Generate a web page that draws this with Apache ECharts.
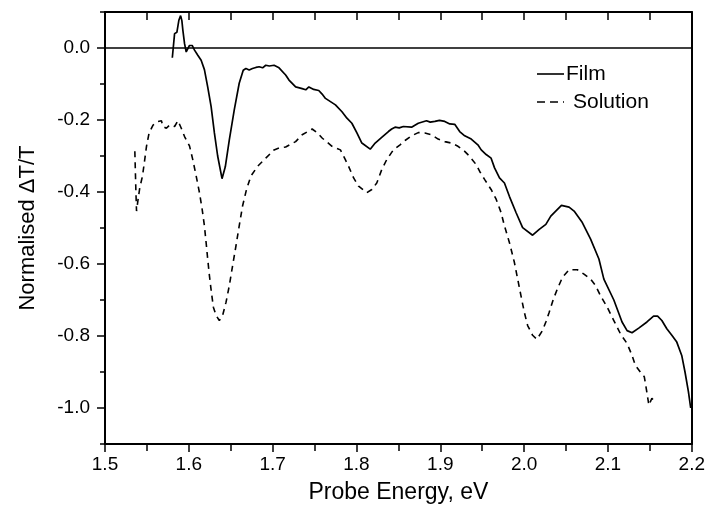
<!DOCTYPE html>
<html>
<head>
<meta charset="utf-8">
<script src="https://cdn.jsdelivr.net/npm/echarts@6/dist/echarts.min.js"></script>
<style>
  html, body { margin: 0; padding: 0; background: #fff; }
  #chart { width: 708px; height: 519px; }
</style>
</head>
<body>
<div id="chart"></div>
<script>
// Transient absorption spectra: film vs solution (normalised dT/T against probe energy)
const filmEnergy = [
  1.5803, 1.5830, 1.5858, 1.5881, 1.5902, 1.5917, 1.5929, 1.5949, 1.5969, 1.5988,
  1.6008, 1.6040, 1.6068, 1.6107, 1.6127, 1.6147, 1.6186, 1.6225, 1.6266, 1.6305,
  1.6344, 1.6396, 1.6435, 1.6483, 1.6542, 1.6601, 1.6649, 1.6681, 1.6720, 1.6759,
  1.6800, 1.6839, 1.6880, 1.6918, 1.6960, 1.7017, 1.7076, 1.7155, 1.7195, 1.7274,
  1.7352, 1.7395, 1.7432, 1.7490, 1.7550, 1.7590, 1.7630, 1.7749, 1.7827, 1.7886,
  1.7945, 1.8005, 1.8064, 1.8164, 1.8223, 1.8301, 1.8381, 1.8420, 1.8460, 1.8510,
  1.8559, 1.8657, 1.8737, 1.8835, 1.8880, 1.8935, 1.8990, 1.9053, 1.9113, 1.9172,
  1.9231, 1.9291, 1.9369, 1.9448, 1.9488, 1.9547, 1.9606, 1.9647, 1.9706, 1.9765,
  1.9824, 1.9903, 1.9982, 2.0101, 2.0180, 2.0259, 2.0318, 2.0377, 2.0445, 2.0536,
  2.0596, 2.0694, 2.0793, 2.0892, 2.0951, 2.1070, 2.1168, 2.1228, 2.1287, 2.1367,
  2.1465, 2.1544, 2.1592, 2.1643, 2.1702, 2.1762, 2.1821, 2.1880, 2.1919, 2.1960,
  2.1987
];
const filmSignal = [
  -0.027, 0.040, 0.044, 0.077, 0.090, 0.076, 0.049, 0.012, -0.011, -0.006,
  0.007, 0.007, -0.006, -0.020, -0.025, -0.034, -0.060, -0.108, -0.163, -0.236,
  -0.300, -0.363, -0.330, -0.255, -0.172, -0.098, -0.062, -0.057, -0.061, -0.057,
  -0.054, -0.052, -0.055, -0.048, -0.050, -0.048, -0.055, -0.075, -0.089, -0.108,
  -0.113, -0.116, -0.108, -0.115, -0.118, -0.128, -0.140, -0.158, -0.177, -0.195,
  -0.209, -0.236, -0.264, -0.281, -0.264, -0.248, -0.232, -0.225, -0.220, -0.222,
  -0.218, -0.220, -0.209, -0.202, -0.206, -0.204, -0.201, -0.204, -0.211, -0.212,
  -0.232, -0.244, -0.253, -0.269, -0.283, -0.296, -0.306, -0.333, -0.361, -0.375,
  -0.412, -0.457, -0.499, -0.520, -0.504, -0.490, -0.467, -0.453, -0.437, -0.442,
  -0.453, -0.485, -0.531, -0.586, -0.642, -0.700, -0.761, -0.785, -0.791, -0.778,
  -0.761, -0.745, -0.745, -0.757, -0.780, -0.798, -0.817, -0.854, -0.900, -0.955,
  -1.000
];
const solutionEnergy = [
  1.5356, 1.5368, 1.5376, 1.5395, 1.5415, 1.5447, 1.5474, 1.5495, 1.5526, 1.5573,
  1.5632, 1.5673, 1.5692, 1.5732, 1.5771, 1.5830, 1.5870, 1.5910, 1.5949, 1.6008,
  1.6047, 1.6088, 1.6127, 1.6159, 1.6186, 1.6206, 1.6225, 1.6246, 1.6269, 1.6293,
  1.6325, 1.6364, 1.6403, 1.6444, 1.6483, 1.6522, 1.6562, 1.6601, 1.6641, 1.6688,
  1.6740, 1.6819, 1.6918, 1.7017, 1.7076, 1.7155, 1.7274, 1.7352, 1.7471, 1.7530,
  1.7590, 1.7708, 1.7808, 1.7867, 1.7906, 1.7966, 1.8025, 1.8123, 1.8183, 1.8242,
  1.8301, 1.8361, 1.8440, 1.8520, 1.8579, 1.8657, 1.8737, 1.8816, 1.8895, 1.8974,
  1.9053, 1.9132, 1.9211, 1.9291, 1.9350, 1.9428, 1.9470, 1.9528, 1.9606, 1.9666,
  1.9725, 1.9765, 1.9824, 1.9884, 1.9923, 1.9962, 2.0002, 2.0042, 2.0101, 2.0152,
  2.0219, 2.0259, 2.0299, 2.0350, 2.0397, 2.0457, 2.0536, 2.0635, 2.0714, 2.0793,
  2.0852, 2.0911, 2.0991, 2.1070, 2.1149, 2.1228, 2.1287, 2.1326, 2.1386, 2.1433,
  2.1457, 2.1488, 2.1524, 2.1544
];
const solutionSignal = [
  -0.287, -0.393, -0.453, -0.420, -0.388, -0.356, -0.310, -0.273, -0.236, -0.214,
  -0.204, -0.202, -0.218, -0.223, -0.214, -0.218, -0.202, -0.223, -0.246, -0.272,
  -0.310, -0.356, -0.402, -0.448, -0.494, -0.540, -0.586, -0.633, -0.678, -0.720,
  -0.743, -0.757, -0.743, -0.706, -0.660, -0.605, -0.550, -0.494, -0.439, -0.393,
  -0.356, -0.329, -0.306, -0.283, -0.278, -0.275, -0.260, -0.241, -0.225, -0.235,
  -0.250, -0.273, -0.283, -0.310, -0.329, -0.361, -0.384, -0.402, -0.393, -0.375,
  -0.338, -0.310, -0.283, -0.269, -0.257, -0.244, -0.235, -0.236, -0.241, -0.253,
  -0.260, -0.264, -0.273, -0.287, -0.301, -0.324, -0.343, -0.365, -0.393, -0.420,
  -0.457, -0.494, -0.540, -0.596, -0.642, -0.688, -0.734, -0.771, -0.798, -0.809,
  -0.785, -0.761, -0.734, -0.697, -0.669, -0.637, -0.616, -0.616, -0.628, -0.642,
  -0.660, -0.688, -0.720, -0.757, -0.794, -0.821, -0.854, -0.881, -0.900, -0.913,
  -0.946, -0.992, -0.973, -0.978
];
const seriesNames = ['Film', 'Solution'];

const zip = (xs, ys) => xs.map((x, i) => [x, ys[i]]);
const fmt = v => (Math.abs(v) < 1e-9 ? '0.0' : v.toFixed(1));

const FONT = '"Liberation Sans", Arial, sans-serif';
const INK = '#000';
const DASH = [6, 5];

const chart = echarts.init(document.getElementById('chart'), null, { renderer: 'canvas' });

// Hand-drawn key: a short line sample followed by its label
function keyEntry(x, y, label, dash, textGap) {
  return [
    {
      type: 'line', silent: true,
      shape: { x1: x, y1: y, x2: x + 27, y2: y },
      style: { stroke: INK, lineWidth: 1.6, lineDash: dash }
    },
    {
      type: 'text', silent: true,
      x: x + 27 + textGap, y: y,
      style: {
        text: label, fill: INK, font: '21px ' + FONT,
        textAlign: 'left', textVerticalAlign: 'middle'
      }
    }
  ];
}

chart.setOption({
  animation: false,
  backgroundColor: '#fff',
  textStyle: { fontFamily: FONT, color: INK },
  grid: [
    { left: 105, right: 13, top: 12, height: 432 },
    // inner grid spanning 0.0 .. -1.0, carries the labelled major ticks
    { left: 105, right: 13, top: 48, height: 360 }
  ],
  xAxis: [
    {
      type: 'value', gridIndex: 0, position: 'bottom',
      min: 1.5, max: 2.2, interval: 0.1,
      name: 'Probe Energy, eV', nameLocation: 'middle', nameGap: 37,
      nameTextStyle: { fontFamily: FONT, fontSize: 23, color: INK },
      axisLine: { show: true, onZero: false, lineStyle: { color: INK, width: 2 } },
      axisTick: { show: true, inside: false, length: 8, lineStyle: { color: INK, width: 1.5 } },
      minorTick: { show: true, splitNumber: 2, length: 7, lineStyle: { color: INK, width: 1.5 } },
      axisLabel: { formatter: fmt, fontFamily: FONT, fontSize: 19, color: INK, margin: 11 },
      splitLine: { show: false }
    },
    {
      type: 'value', gridIndex: 0, position: 'top',
      min: 1.5, max: 2.2, interval: 0.1,
      axisLine: { show: true, onZero: false, lineStyle: { color: INK, width: 2 } },
      axisTick: { show: true, inside: true, length: 8, lineStyle: { color: INK, width: 1.5 } },
      minorTick: { show: true, splitNumber: 2, length: 8, lineStyle: { color: INK, width: 1.5 } },
      axisLabel: { show: false },
      splitLine: { show: false }
    },
    {
      type: 'value', gridIndex: 1, show: false, min: 1.5, max: 2.2
    }
  ],
  yAxis: [
    {
      type: 'value', gridIndex: 0, position: 'left',
      min: -1.1, max: 0.1, interval: 0.1,
      axisLine: { show: true, onZero: false, lineStyle: { color: INK, width: 2 } },
      axisTick: { show: true, inside: false, length: 5, lineStyle: { color: INK, width: 1.5 } },
      axisLabel: { show: false },
      splitLine: { show: false }
    },
    {
      type: 'value', gridIndex: 0, position: 'right',
      min: -1.1, max: 0.1,
      axisLine: { show: true, onZero: false, lineStyle: { color: INK, width: 2 } },
      axisTick: { show: false },
      axisLabel: { show: false },
      splitLine: { show: false }
    },
    {
      type: 'value', gridIndex: 1, position: 'left',
      min: -1.0, max: 0.0, interval: 0.2,
      name: 'Normalised \u0394T/T', nameLocation: 'middle', nameGap: 66,
      nameTextStyle: { fontFamily: FONT, fontSize: 22, color: INK },
      axisLine: { show: false },
      axisTick: { show: true, inside: false, length: 8, lineStyle: { color: INK, width: 1.5 } },
      axisLabel: { formatter: fmt, fontFamily: FONT, fontSize: 19, color: INK, margin: 15 },
      splitLine: { show: false }
    }
  ],
  graphic: [
    ...keyEntry(537, 74, seriesNames[0], null, 2),
    ...keyEntry(537, 102, seriesNames[1], [8, 5], 9)
  ],
  series: [
    {
      name: seriesNames[0], type: 'line', xAxisIndex: 0, yAxisIndex: 0,
      data: zip(filmEnergy, filmSignal),
      showSymbol: false, symbol: 'none', smooth: false,
      lineStyle: { color: INK, width: 1.7, type: 'solid' },
      itemStyle: { color: INK },
      markLine: {
        silent: true, symbol: 'none',
        label: { show: false },
        lineStyle: { color: INK, width: 1.6, type: 'solid' },
        data: [{ yAxis: 0 }]
      }
    },
    {
      name: seriesNames[1], type: 'line', xAxisIndex: 0, yAxisIndex: 0,
      data: zip(solutionEnergy, solutionSignal),
      showSymbol: false, symbol: 'none', smooth: false,
      lineStyle: { color: INK, width: 1.6, type: DASH },
      itemStyle: { color: INK }
    }
  ]
});
</script>
</body>
</html>
